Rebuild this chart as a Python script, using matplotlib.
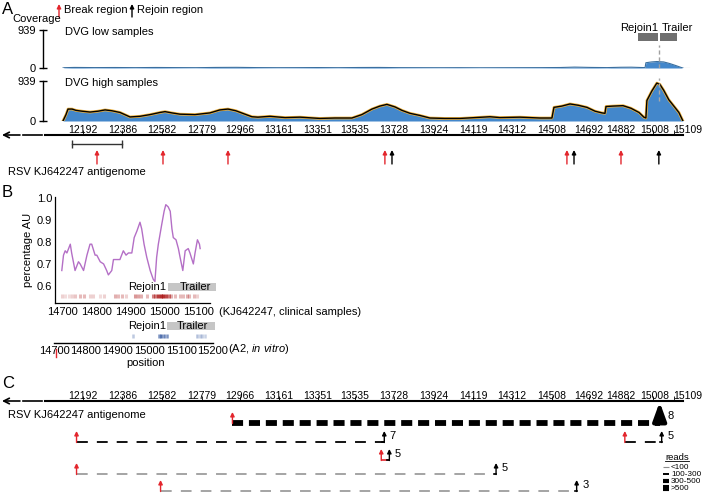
import numpy as np
import matplotlib.pyplot as plt
from matplotlib.lines import Line2D
from matplotlib.patches import Rectangle

plt.rcParams['font.family'] = ['Liberation Sans', 'DejaVu Sans']
plt.rcParams['mathtext.fontset'] = 'custom'
plt.rcParams['mathtext.rm'] = 'Liberation Sans'
plt.rcParams['mathtext.it'] = 'Liberation Sans:italic'

# ---------------- data ----------------
genome_ticks = [12192, 12386, 12582, 12779, 12966, 13161, 13351, 13535, 13728,
                13924, 14119, 14312, 14508, 14692, 14882, 15008, 15109]
genome_start, genome_end = 12004, 15155
cov_max = 939

low_pos = [12093, 12100, 12150, 12250, 12350, 12450, 12550, 12650, 12750, 12850,
           12950, 13050, 13150, 13250, 13350, 13450, 13550, 13650, 13750, 13850,
           13950, 14050, 14150, 14250, 14350, 14450, 14550, 14620, 14700, 14780,
           14850, 14900, 14950, 14968, 14972, 15000, 15026, 15060, 15090, 15120,
           15145, 15155]
low_cov = [0, 8, 14, 10, 12, 9, 13, 10, 8, 14,
           16, 10, 8, 9, 11, 8, 12, 14, 9, 8,
           7, 8, 6, 7, 8, 9, 12, 22, 14, 10,
           18, 20, 12, 10, 130, 150, 160, 150, 110, 60,
           15, 0]

high_pos = [12093, 12108, 12118, 12138, 12157, 12187, 12227, 12266, 12301, 12335,
            12375, 12424, 12473, 12523, 12572, 12597, 12631, 12671, 12745, 12819,
            12868, 12908, 12947, 12992, 13026, 13056, 13115, 13190, 13264, 13362,
            13436, 13520, 13569, 13619, 13658, 13693, 13733, 13767, 13807, 13856,
            13905, 13979, 14054, 14128, 14202, 14251, 14350, 14449, 14508, 14518,
            14557, 14597, 14637, 14681, 14721, 14755, 14770, 14775, 14809, 14859,
            14898, 14938, 14962, 14972, 14977, 15001, 15026, 15041, 15060, 15085,
            15110, 15135, 15155]
high_cov = [0, 150, 280, 280, 250, 230, 210, 230, 260, 240,
            200, 95, 110, 150, 200, 220, 190, 160, 150, 190,
            260, 280, 240, 160, 100, 90, 110, 80, 90, 60,
            70, 70, 150, 280, 350, 390, 330, 250, 180, 130,
            70, 60, 60, 80, 100, 80, 90, 70, 70, 320,
            350, 400, 370, 320, 230, 190, 180, 340, 350, 360,
            300, 200, 90, 70, 480, 700, 890, 860, 720, 500,
            350, 200, 0]

rejoin1_region = (14933, 15036)
trailer_region = (15036, 15125)
break_regions = [12261, 12587, 12908, 13683, 14582, 14849]
rejoin_regions = [13718, 14617, 15036]
scale_bar = (12140, 12386)

# panel B
au_pos = [14699, 14704, 14709, 14714, 14719, 14724, 14728, 14733, 14738, 14743,
          14748, 14753, 14763, 14773, 14782, 14787, 14797, 14802, 14812, 14822,
          14831, 14836, 14846, 14851, 14860, 14870, 14875, 14880, 14888, 14895,
          14900, 14905, 14912, 14920, 14929, 14934, 14941, 14949, 14959, 14968,
          14973, 14978, 14983, 14993, 15000, 15005, 15012, 15018, 15023, 15027,
          15035, 15042, 15047, 15055, 15062, 15071, 15076, 15086, 15091, 15098,
          15104, 15106]
au_val = [0.67, 0.74, 0.76, 0.75, 0.77, 0.79, 0.75, 0.71, 0.67, 0.69,
          0.71, 0.70, 0.67, 0.74, 0.79, 0.79, 0.74, 0.74, 0.71, 0.70,
          0.67, 0.65, 0.67, 0.72, 0.72, 0.72, 0.74, 0.76, 0.74, 0.75,
          0.75, 0.75, 0.82, 0.85, 0.89, 0.86, 0.79, 0.73, 0.67, 0.63,
          0.62, 0.73, 0.79, 0.88, 0.94, 0.97, 0.96, 0.94, 0.86, 0.82,
          0.81, 0.77, 0.73, 0.67, 0.76, 0.77, 0.75, 0.70, 0.75, 0.81,
          0.79, 0.77]
clin_ticks = [14700, 14800, 14900, 15000, 15100]
a2_ticks = [14700, 14800, 14900, 15000, 15100, 15200]
au_ticks = [0.6, 0.7, 0.8, 0.9, 1.0]

clin_strip_pos = [14699, 14709, 14719, 14728, 14738, 14753, 14763, 14782, 14792, 14810,
                  14823, 14856, 14863, 14875, 14888, 14915, 14924, 14932, 14949, 14968,
                  14973, 14983, 14990, 14998, 15006, 15014, 15021, 15032, 15047, 15055,
                  15067, 15074, 15088, 15098]
clin_strip_val = [0.2, 0.15, 0.15, 0.2, 0.25, 0.3, 0.3, 0.2, 0.2, 0.15,
                  0.2, 0.35, 0.3, 0.3, 0.2, 0.45, 0.4, 0.35, 0.3, 0.55,
                  0.6, 0.85, 0.9, 0.9, 0.8, 0.6, 0.35, 0.3, 0.3, 0.3,
                  0.35, 0.3, 0.3, 0.2]
a2_strip_pos = [14948, 15030, 15038, 15046, 15054, 15150, 15158, 15166, 15174]
a2_strip_val = [0.3, 0.6, 0.8, 0.7, 0.6, 0.35, 0.3, 0.3, 0.25]
clin_trailer = (15012, 15153)
a2_trailer = (15055, 15206)

# panel C
dvg_break = [12930, 12160, 14868, 13665, 12160, 12575]
dvg_rejoin = [15040, 13680, 15050, 13705, 14232, 14630]
dvg_reads = ['>500', '100-300', '100-300', '100-300', '<100', '<100']
dvg_count = [8, 7, 5, 5, 5, 3]
reads_labels = ['<100', '100-300', '300-500', '>500']

# ---------------- layout helpers ----------------
W, H = 704, 498
fig = plt.figure(figsize=(W / 100, H / 100), dpi=100)
RED = '#e3262d'
BLUE = '#4387cb'
XLIM = (11782, 15259)
nt_px = (XLIM[1] - XLIM[0]) / W


def px_axes(x0, y0, x1, y1):
    ax = fig.add_axes([x0 / W, 1 - y1 / H, (x1 - x0) / W, (y1 - y0) / H])
    ax.patch.set_alpha(0)
    return ax


def ftext(x, y, s, **kw):
    kw.setdefault('fontsize', 8)
    kw.setdefault('va', 'center')
    fig.text(x / W, 1 - y / H, s, **kw)


def up_arrow(ax, x, y0, y1, color, lw=1.0, scale=6):
    ax.annotate('', xy=(x, y1), xytext=(x, y0),
                arrowprops=dict(arrowstyle='-|>', color=color, lw=lw,
                                mutation_scale=scale, shrinkA=0, shrinkB=0))


def coverage_track(ax, pos, cov):
    ax.set_xlim(XLIM)
    ax.set_ylim(0, cov_max)
    for s in ['top', 'right', 'bottom']:
        ax.spines[s].set_visible(False)
    ax.spines['left'].set_position(('data', genome_start - 2 * nt_px))
    ax.spines['left'].set_linewidth(1.0)
    ax.set_xticks([])
    ax.set_yticks([0, cov_max])
    ax.tick_params(axis='y', direction='inout', length=6, width=1.0, labelsize=8, pad=2)


def genome_axis(ax, y_top, y_bot):
    ax.set_xlim(XLIM)
    ax.set_ylim(y_bot, y_top)
    for s in ['left', 'right', 'bottom']:
        ax.spines[s].set_visible(False)
    ax.spines['top'].set_bounds(genome_start, genome_end)
    ax.spines['top'].set_linewidth(1.5)
    ax.set_yticks([])
    ax.xaxis.set_ticks_position('top')
    ax.set_xticks(genome_ticks)
    ax.tick_params(axis='x', direction='out', length=3.5, width=0.6,
                   labeltop=False, labelbottom=False)
    nudge = {14882: -5, 15008: 1}
    for i, t in enumerate(genome_ticks):
        last = i == len(genome_ticks) - 1
        ax.annotate(str(t), xy=(t, 1), xycoords=('data', 'axes fraction'),
                    xytext=(nudge.get(t, 0), 0), textcoords='offset points',
                    ha='left' if last else 'center', va='bottom', fontsize=7.5)
    # broken arrow to the left of the shown region
    yl = y_top
    ax.annotate('', xy=(genome_start - 43 * nt_px, yl), xytext=(genome_start - 25 * nt_px, yl),
                arrowprops=dict(arrowstyle='->', color='black', lw=1.2,
                                mutation_scale=10, shrinkA=0, shrinkB=0))
    ax.plot([genome_start - 22 * nt_px, genome_start - 3 * nt_px], [yl, yl],
            color='black', lw=1.2, clip_on=False)


# ---------------- panel A ----------------
ftext(2, 9, 'A', fontsize=12)
ftext(12, 19, 'Coverage')
fig_ax = fig.add_axes([0, 0, 1, 1])
fig_ax.axis('off')
fig_ax.set_xlim(0, W)
fig_ax.set_ylim(H, 0)
up_arrow(fig_ax, 59, 17, 4, RED)
ftext(64, 10, 'Break region')
up_arrow(fig_ax, 132, 17, 4, 'black')
ftext(137, 10, 'Rejoin region')

ax_low = px_axes(0, 30, 704, 68)
coverage_track(ax_low, low_pos, low_cov)
ax_low.fill_between(low_pos, low_cov, color=BLUE, lw=0)
ax_low.plot(low_pos, low_cov, color='#3a6f9f', lw=0.8)
ax_low.plot([low_pos[-1], low_pos[-1] + 6 * nt_px], [0, 0], color='#999999', lw=0.8)
ax_low.text(genome_start + 20 * nt_px, 880, 'DVG low samples', fontsize=8, va='center')
ax_low.add_patch(Rectangle((rejoin1_region[0], 667), rejoin1_region[1] - rejoin1_region[0] - nt_px,
                           200, color='#707070', lw=0, clip_on=False))
ax_low.add_patch(Rectangle((trailer_region[0] + nt_px, 667), trailer_region[1] - trailer_region[0] - nt_px,
                           200, color='#707070', lw=0, clip_on=False))
ax_low.text(rejoin1_region[1] - nt_px, 990, 'Rejoin1', ha='right', va='center', fontsize=8)
ax_low.text(trailer_region[0] + 3 * nt_px, 990, 'Trailer', ha='left', va='center', fontsize=8)
ax_low.plot([trailer_region[0]] * 2, [0, 560], color='#a0a0a0', lw=1.0, dashes=(3, 2))

ax_high = px_axes(0, 81, 704, 121)
coverage_track(ax_high, high_pos, high_cov)
ax_high.fill_between(high_pos, high_cov, color=BLUE, lw=0)
ax_high.plot(high_pos, high_cov, color='#f0b23a', lw=2.0)
ax_high.plot(high_pos, high_cov, color='black', lw=1.0)
ax_high.plot([trailer_region[0]] * 2, [480, 1000], color='#a8a8a8', lw=1.0,
             dashes=(3, 2), clip_on=False)
ax_high.text(genome_start + 20 * nt_px, 890, 'DVG high samples', fontsize=8, va='center')

ax_ga = px_axes(0, 135, 704, 180)
genome_axis(ax_ga, 135, 180)
ax_ga.plot(scale_bar, [144, 144], color='#333333', lw=1.0, marker='|', markersize=6)
for p in break_regions:
    up_arrow(ax_ga, p, 164, 150, RED)
for p in rejoin_regions:
    up_arrow(ax_ga, p, 164, 150, 'black')
ftext(8, 172, 'RSV KJ642247 antigenome')

# ---------------- panel B ----------------
ftext(2, 192, 'B', fontsize=12)
ax_b = px_axes(55, 197, 210, 303)
ax_b.set_xlim(14679, 15135)
ax_b.set_ylim(0.522, 1.005)
ax_b.plot(au_pos, au_val, color='#b46fc6', lw=1.0)
for s in ['top', 'right']:
    ax_b.spines[s].set_visible(False)
for s in ['left', 'bottom']:
    ax_b.spines[s].set_linewidth(0.9)
ax_b.set_yticks(au_ticks)
ax_b.set_yticklabels([f'{v:.1f}' for v in au_ticks])
ax_b.set_xticks(clin_ticks)
ax_b.tick_params(axis='y', length=0, labelsize=8, pad=2)
ax_b.tick_params(axis='x', length=0, labelsize=8, pad=3)
ax_b.set_ylabel('percentage AU', fontsize=8, labelpad=3)
tr_b = ax_b.get_xaxis_transform()
for p, v in zip(clin_strip_pos, clin_strip_val):
    ax_b.plot([p, p], [0.05, 0.085], transform=tr_b, color=(0.68, 0.1, 0.1, v),
              lw=2.2, solid_capstyle='butt')
ax_b.add_patch(Rectangle((clin_trailer[0], 0.115), clin_trailer[1] - clin_trailer[0], 0.075,
                         transform=tr_b, color='#c6c6c6', lw=0, clip_on=False))
ax_b.text(clin_trailer[0] - 5, 0.152, 'Rejoin1', transform=tr_b, ha='right', va='center', fontsize=8)
ax_b.text((clin_trailer[0] + clin_trailer[1]) / 2 + 10, 0.152, 'Trailer', transform=tr_b,
          ha='center', va='center', fontsize=8)
ftext(219, 312, '(KJ642247, clinical samples)')

ax_b2 = px_axes(54, 315, 213, 343)
ax_b2.set_xlim(a2_ticks[0], a2_ticks[-1])
ax_b2.set_ylim(0, 1)
for s in ['top', 'right', 'left']:
    ax_b2.spines[s].set_visible(False)
ax_b2.spines['bottom'].set_linewidth(1.0)
ax_b2.set_yticks([])
ax_b2.set_xticks(a2_ticks)
ax_b2.tick_params(axis='x', length=0, labelsize=8, pad=2)
ax_b2.plot([a2_ticks[0] + 6] * 2, [-0.2, -0.5], color=RED, lw=1.0, clip_on=False)
for p, v in zip(a2_strip_pos, a2_strip_val):
    ax_b2.plot([p, p], [0.18, 0.32], color=(0.15, 0.3, 0.6, v), lw=1.8,
               solid_capstyle='butt', clip_on=False)
ax_b2.add_patch(Rectangle((a2_trailer[0], 0.46), a2_trailer[1] - a2_trailer[0], 0.29,
                          color='#c6c6c6', lw=0, clip_on=False))
ax_b2.text(a2_trailer[0] - 3, 0.6, 'Rejoin1', ha='right', va='center', fontsize=8)
ax_b2.text((a2_trailer[0] + a2_trailer[1]) / 2 + 5, 0.6, 'Trailer', ha='center', va='center', fontsize=8)
ftext(228, 349, '(A2, $\\mathit{in\\ vitro}$)')
ftext(146, 363, 'position', ha='center')

# ---------------- panel C ----------------
ftext(2, 383, 'C', fontsize=12)
ax_c = px_axes(0, 401, 704, 498)
genome_axis(ax_c, 401, 498)
ftext(8, 415, 'RSV KJ642247 antigenome')

styles = {
    '<100': dict(color='#8c8c8c', lw=1.1, dashes=(7, 6)),
    '100-300': dict(color='black', lw=1.3, dashes=(6, 5)),
    '300-500': dict(color='black', lw=2.6, dashes=(3, 1.6)),
    '>500': dict(color='black', lw=4.2, dashes=(1.9, 1.0)),
}
row_y = [423, 442, 442, 460, 474, 491]
for b, r, cat, n, y in zip(dvg_break, dvg_rejoin, dvg_reads, dvg_count, row_y):
    up_arrow(ax_c, b, y + 0.5, y - 11, RED)
    if r - b < 100:
        ax_c.plot([b, r], [y, y], color=RED, lw=1.2, solid_capstyle='butt')
    else:
        st = styles[cat]
        ax_c.plot([b, r], [y, y], color=st['color'], lw=st['lw'],
                  dashes=st['dashes'], dash_capstyle='butt')
    if cat == '>500':
        ax_c.annotate('', xy=(r, 402), xytext=(r, y),
                      arrowprops=dict(arrowstyle='-|>,head_length=0.55,head_width=0.2',
                                      color='black', lw=3.0, mutation_scale=20,
                                      shrinkA=0, shrinkB=0))
        ax_c.annotate(str(n), xy=(r, y - 7), xytext=(6, 0), textcoords='offset points',
                      va='center', fontsize=8)
    else:
        ax_c.plot([r - 2 * nt_px, r], [y, y], color='black', lw=1.2)
        up_arrow(ax_c, r, y + 0.5, y - 11, 'black')
        ax_c.annotate(str(n), xy=(r, y - 6), xytext=(4, 0), textcoords='offset points',
                      va='center', fontsize=8)

# reads legend
ftext(665, 457, 'reads', fontsize=6.8)
fig_ax.plot([665, 689], [461, 461], color='black', lw=0.6)
legend_lw = [0.8, 1.4, 3.0, 4.4]
legend_col = ['#8c8c8c', 'black', 'black', 'black']
for i, (lab, lw, c) in enumerate(zip(reads_labels, legend_lw, legend_col)):
    yy = 467 + 7 * i
    fig_ax.plot([663, 669], [yy, yy], color=c, lw=lw, solid_capstyle='butt')
    ftext(671, yy, lab, fontsize=5.9)

fig.savefig('out.png', dpi=100)
